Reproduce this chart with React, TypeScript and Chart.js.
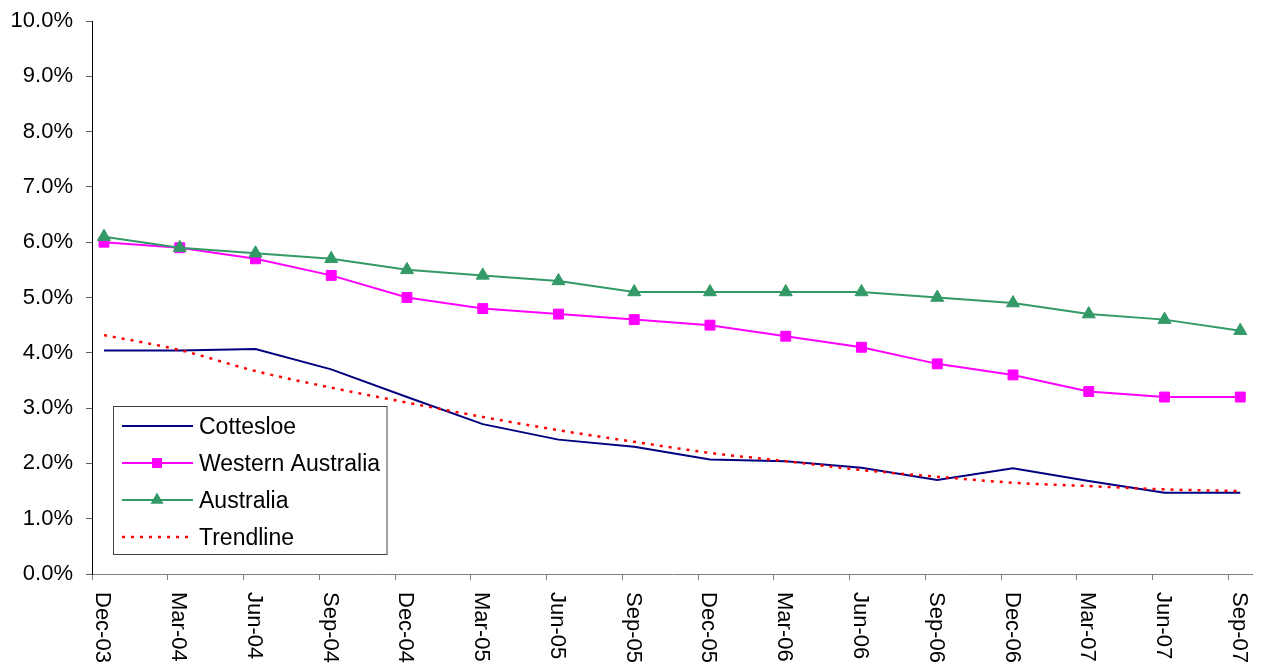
import React, { useEffect, useRef } from 'react';
import { Chart, registerables } from 'chart.js';

Chart.register(...registerables);

const categories = ['Dec-03', 'Mar-04', 'Jun-04', 'Sep-04', 'Dec-04', 'Mar-05', 'Jun-05', 'Sep-05', 'Dec-05', 'Mar-06', 'Jun-06', 'Sep-06', 'Dec-06', 'Mar-07', 'Jun-07', 'Sep-07'];
const cottesloe = [4.04, 4.04, 4.07, 3.70, 3.20, 2.71, 2.43, 2.30, 2.07, 2.04, 1.92, 1.70, 1.91, 1.68, 1.47, 1.47];
const westernAustralia = [6.0, 5.9, 5.7, 5.4, 5.0, 4.8, 4.7, 4.6, 4.5, 4.3, 4.1, 3.8, 3.6, 3.3, 3.2, 3.2];
const australia = [6.1, 5.9, 5.8, 5.7, 5.5, 5.4, 5.3, 5.1, 5.1, 5.1, 5.1, 5.0, 4.9, 4.7, 4.6, 4.4];
const trendline = [4.32, 4.05, 3.67, 3.37, 3.10, 2.84, 2.60, 2.39, 2.19, 2.04, 1.88, 1.76, 1.65, 1.59, 1.53, 1.50];
const seriesNames = ['Cottesloe', 'Western Australia', 'Australia', 'Trendline'];
const yMin = 0;
const yMax = 10;
const yStep = 1;

const FONT = '"Liberation Sans", Arial, sans-serif';
const NAVY = '#000080';
const MAGENTA = '#FF00FF';
const GREEN = '#339966';
const RED = '#FF0000';

const toPoints = (arr: number[]) => arr.map((v, i) => ({ x: i, y: v }));

const xLabelsPlugin = {
  id: 'xLabels',
  afterDraw(chart: any) {
    const ctx = chart.ctx;
    const xs = chart.scales.x;
    const top = chart.chartArea.bottom + 18;
    ctx.save();
    ctx.font = `22px ${FONT}`;
    ctx.fillStyle = '#000';
    ctx.textAlign = 'left';
    ctx.textBaseline = 'alphabetic';
    categories.forEach((lab, i) => {
      const px = xs.getPixelForValue(i);
      ctx.save();
      ctx.translate(px - 7.5, top);
      ctx.rotate(Math.PI / 2);
      ctx.fillText(lab, 0, 0);
      ctx.restore();
    });
    ctx.restore();
  },
};

const legendPlugin = {
  id: 'boxLegend',
  afterDraw(chart: any) {
    const ctx = chart.ctx;
    const bx = 113.5, by = 406.5, bw = 273.5, bh = 148;
    ctx.save();
    ctx.fillStyle = '#fff';
    ctx.fillRect(bx, by, bw, bh);
    ctx.strokeStyle = '#404040';
    ctx.lineWidth = 1;
    ctx.strokeRect(bx, by, bw, bh);
    const rows = [426, 463, 500, 537];
    const x0 = 122, x1 = 193, mx = 157;
    chart.data.datasets.forEach((ds: any, i: number) => {
      const y = rows[i];
      ctx.save();
      ctx.strokeStyle = ds.borderColor;
      ctx.lineWidth = ds.borderWidth;
      ctx.setLineDash(ds.borderDash || []);
      ctx.beginPath();
      ctx.moveTo(x0, y);
      ctx.lineTo(x1, y);
      ctx.stroke();
      ctx.setLineDash([]);
      ctx.fillStyle = ds.pointBackgroundColor;
      if (ds.pointRadius > 0) {
        const r = ds.pointRadius;
        if (ds.pointStyle === 'rect') {
          const s = Math.SQRT1_2 * r;
          ctx.fillRect(mx - s, y - s, 2 * s, 2 * s);
        } else if (ds.pointStyle === 'triangle') {
          ctx.beginPath();
          ctx.moveTo(mx, y - r);
          ctx.lineTo(mx + r * 0.866, y + r * 0.5);
          ctx.lineTo(mx - r * 0.866, y + r * 0.5);
          ctx.closePath();
          ctx.fill();
        }
      }
      ctx.restore();
      ctx.fillStyle = '#000';
      ctx.font = `23px ${FONT}`;
      ctx.textAlign = 'left';
      ctx.textBaseline = 'alphabetic';
      ctx.fillText(ds.label, 199, y + 8);
    });
    ctx.restore();
  },
};

export default function App() {
  const ref = useRef<HTMLCanvasElement>(null);
  useEffect(() => {
    if (!ref.current) return;
    const chart = new Chart(ref.current, {
      type: 'line',
      data: {
        datasets: [
          {
            label: seriesNames[0],
            data: toPoints(cottesloe),
            borderColor: NAVY,
            backgroundColor: NAVY,
            pointBackgroundColor: NAVY,
            borderWidth: 2,
            pointRadius: 0,
            tension: 0,
            order: 2,
          },
          {
            label: seriesNames[1],
            data: toPoints(westernAustralia),
            borderColor: MAGENTA,
            backgroundColor: MAGENTA,
            pointBackgroundColor: MAGENTA,
            pointBorderColor: MAGENTA,
            pointBorderWidth: 1,
            borderWidth: 2,
            pointStyle: 'rect',
            pointRadius: 7,
            tension: 0,
            order: 1,
          },
          {
            label: seriesNames[2],
            data: toPoints(australia),
            borderColor: GREEN,
            backgroundColor: GREEN,
            pointBackgroundColor: GREEN,
            pointBorderColor: GREEN,
            pointBorderWidth: 1,
            borderWidth: 2,
            pointStyle: 'triangle',
            pointRadius: 7.5,
            tension: 0,
            order: 0,
          },
          {
            label: seriesNames[3],
            data: toPoints(trendline),
            borderColor: RED,
            backgroundColor: RED,
            pointBackgroundColor: RED,
            borderWidth: 2.5,
            borderDash: [3, 6],
            pointRadius: 0,
            cubicInterpolationMode: 'monotone',
            order: -1,
          },
        ] as any,
      },
      options: {
        responsive: false,
        animation: false,
        layout: { padding: { left: 0, top: 21, right: 16, bottom: 0 } },
        plugins: {
          legend: { display: false },
          tooltip: { enabled: false },
          title: { display: false },
        },
        scales: {
          x: {
            type: 'linear',
            min: -0.158,
            max: 15.155,
            afterBuildTicks: (scale: any) => {
              scale.ticks = categories.map((_, i) => ({ value: i - 0.158 }));
            },
            afterFit: (scale: any) => {
              scale.height = 94;
              scale.paddingLeft = 0;
              scale.paddingRight = 0;
            },
            ticks: { display: false },
            grid: {
              drawOnChartArea: false,
              drawTicks: true,
              tickLength: 6,
              color: '#808080',
            },
            border: { display: true, color: '#808080', width: 1 },
          },
          y: {
            type: 'linear',
            min: yMin,
            max: yMax,
            afterFit: (scale: any) => {
              scale.width = 92;
              scale.paddingTop = 0;
              scale.paddingBottom = 0;
            },
            ticks: {
              stepSize: yStep,
              padding: 13,
              color: '#000',
              font: { family: FONT, size: 22 },
              callback: (v: any) => Number(v).toFixed(1) + '%',
            },
            grid: {
              drawOnChartArea: false,
              drawTicks: true,
              tickLength: 6,
              color: '#606060',
            },
            border: { display: true, color: '#000', width: 1 },
          },
        },
      },
      plugins: [xLabelsPlugin, legendPlugin],
    });
    return () => chart.destroy();
  }, []);
  return (
    <div style={{ position: 'absolute', left: 0, top: 0, width: 1268, height: 668, background: '#fff' }}>
      <canvas ref={ref} width={1268} height={668} style={{ width: 1268, height: 668 }} />
    </div>
  );
}
